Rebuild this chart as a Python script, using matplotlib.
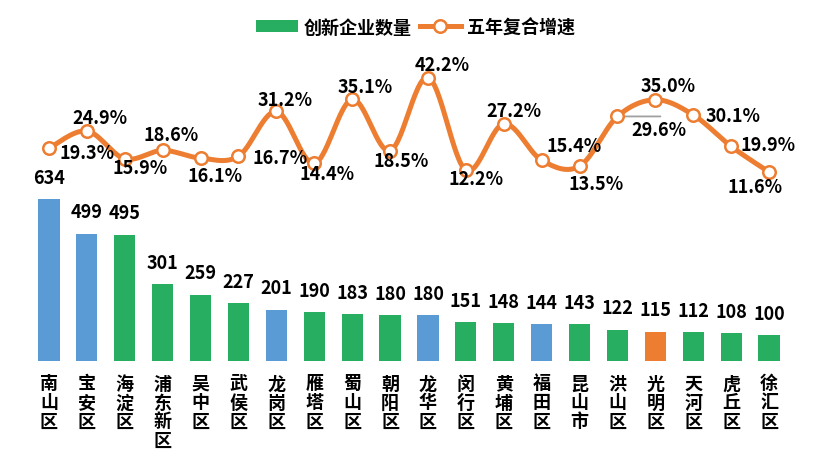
import numpy as np
import matplotlib.pyplot as plt
from matplotlib.patches import Patch
from matplotlib.lines import Line2D

plt.rcParams['font.family'] = ['Noto Sans CJK SC', 'DejaVu Sans']

categories = ['南山区', '宝安区', '海淀区', '浦东新区', '吴中区', '武侯区', '龙岗区', '雁塔区',
              '蜀山区', '朝阳区', '龙华区', '闵行区', '黄埔区', '福田区', '昆山市', '洪山区',
              '光明区', '天河区', '虎丘区', '徐汇区']
counts = [634, 499, 495, 301, 259, 227, 201, 190, 183, 180, 180, 151, 148, 144, 143, 122,
          115, 112, 108, 100]
growth = [19.3, 24.9, 15.9, 18.6, 16.1, 16.7, 31.2, 14.4, 35.1, 18.5, 42.2, 12.2, 27.2,
          15.4, 13.5, 29.6, 35.0, 30.1, 19.9, 11.6]
series_names = ['创新企业数量', '五年复合增速']

BLUE = '#5B9BD5'
GREEN = '#27AE60'
ORANGE = '#ED7D31'
bar_colors = [BLUE, BLUE, GREEN, GREEN, GREEN, GREEN, BLUE, GREEN, GREEN, GREEN, BLUE,
              GREEN, GREEN, BLUE, GREEN, GREEN, ORANGE, GREEN, GREEN, GREEN]
# label offsets in pixels (dx, dy) with dy positive upward
label_offsets = [(38, -4), (13, 13), (15, -9), (8, 16), (15, -17), (42, -1), (9, 12),
                 (13, -10), (13, 13), (11, -10), (14, 13), (10, -8), (10, 13), (32, 15),
                 (17, -17), (42, -13), (13, 14), (40, -1), (37, 2), (-14, -14)]

W, H = 831, 464
fig = plt.figure(figsize=(W / 100, H / 100), dpi=100)
ax = fig.add_axes([30 / W, (H - 362) / H, 758 / W, 302 / H])

x = np.arange(len(categories))
ax.bar(x, counts, width=0.56, color=bar_colors, zorder=2)
ax.set_xlim(-0.5, len(categories) - 0.5)
ax.set_ylim(0, 1182)
for xi, v in zip(x, counts):
    ax.annotate(str(v), (xi, v), xytext=(0, 22), textcoords='offset pixels',
                ha='center', va='center', fontsize=13, fontweight='bold', color='black')

ax.set_xticks(x)
ax.set_xticklabels(['\n'.join(c) for c in categories], fontsize=13, fontweight='bold',
                   linespacing=1.0, va='top')
ax.tick_params(axis='x', length=0, pad=9)
ax.set_yticks([])
for s in ax.spines.values():
    s.set_visible(False)

ax2 = ax.twinx()
ax2.set_ylim(-49.6, 48.2)
ax2.set_yticks([])
for s in ax2.spines.values():
    s.set_visible(False)

# smoothed (Catmull-Rom / Bezier) curve through the points
gx = x.astype(float)
gy = np.array(growth, dtype=float)
px = np.concatenate([[gx[0]], gx, [gx[-1]]])
py = np.concatenate([[gy[0]], gy, [gy[-1]]])
cx, cy = [], []
t = np.linspace(0, 1, 30)
for i in range(len(gx) - 1):
    p0 = np.array([px[i + 1], py[i + 1]])
    p3 = np.array([px[i + 2], py[i + 2]])
    c1 = p0 + (p3 - np.array([px[i], py[i]])) / 6
    c2 = p3 - (np.array([px[i + 3], py[i + 3]]) - p0) / 6
    b = ((1 - t) ** 3)[:, None] * p0 + (3 * (1 - t) ** 2 * t)[:, None] * c1 + \
        (3 * (1 - t) * t ** 2)[:, None] * c2 + (t ** 3)[:, None] * p3
    cx.extend(b[:, 0])
    cy.extend(b[:, 1])
ax2.plot(cx, cy, color=ORANGE, lw=3.6, solid_capstyle='round', zorder=3)
ax2.plot(gx, gy, ls='none', marker='o', ms=9, mfc='white', mec=ORANGE, mew=1.8, zorder=4)

for i, (xi, v) in enumerate(zip(gx, gy)):
    dx, dy = label_offsets[i]
    if i == 15:
        ax2.annotate('', (xi, v), xytext=(43, 0), textcoords='offset pixels',
                     arrowprops=dict(arrowstyle='-', color='#A0A0A0', lw=1.3,
                                     shrinkA=0, shrinkB=5))
    ax2.annotate(f'{v:.1f}%', (xi, v), xytext=(dx, dy), textcoords='offset pixels',
                 ha='center', va='center', fontsize=13, fontweight='bold', color='black',
                 zorder=5)

handles = [Patch(facecolor=GREEN, edgecolor='none'),
           Line2D([], [], color=ORANGE, lw=3.6, marker='o', ms=9, mfc='white',
                  mec=ORANGE, mew=1.8)]
fig.legend(handles, series_names, loc='center', bbox_to_anchor=(0.5, 1 - 28 / H),
           ncol=2, frameon=False, prop={'size': 13, 'weight': 'bold'},
           handlelength=2.3, handleheight=0.6, handletextpad=0.3, columnspacing=0.45)

fig.savefig('out.png', dpi=100)
